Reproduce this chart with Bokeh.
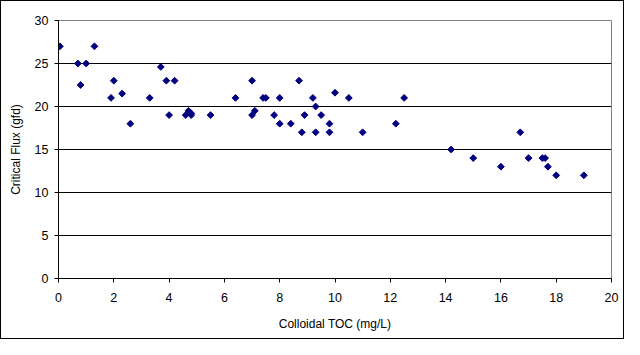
import math
from bokeh.plotting import figure
from bokeh.models import Range1d, FixedTicker, ColumnDataSource
from bokeh.embed import file_html
from bokeh.resources import INLINE

toc = [0.05, 0.7, 0.8, 1.0, 1.3, 1.9, 2.0, 2.3, 2.6, 3.3, 3.7, 3.9, 4.0, 4.2,
       4.6, 4.7, 4.8, 4.8, 5.5, 6.4, 7.0, 7.0, 7.1, 7.4, 7.5, 7.8, 8.0, 8.0,
       8.4, 8.7, 8.8, 8.9, 9.2, 9.3, 9.3, 9.5, 9.8, 9.8, 10.0, 10.5, 11.0,
       12.2, 12.5, 14.2, 15.0, 16.0, 16.7, 17.0, 17.5, 17.6, 17.7, 18.0, 19.0]
flux = [27, 25, 22.5, 25, 27, 21, 23, 21.5, 18, 21, 24.6, 23, 19, 23,
        19, 19.5, 19.2, 19, 19, 21, 23, 19, 19.5, 21, 21, 19, 21, 18,
        18, 23, 17, 19, 21, 20, 17, 19, 18, 17, 21.6, 21, 17,
        18, 21, 15, 14, 13, 17, 14, 14, 14, 13, 12, 12]
x_ticks = [0, 2, 4, 6, 8, 10, 12, 14, 16, 18, 20]
y_ticks = [0, 5, 10, 15, 20, 25, 30]
grid_levels = [5, 10, 15, 20, 25]

src = ColumnDataSource(dict(x=toc, y=flux))

p = figure(width=624, height=339, output_backend="svg", toolbar_location=None,
           x_range=Range1d(0, 20), y_range=Range1d(0, 30),
           min_border_left=57, min_border_right=14, min_border_top=19,
           min_border_bottom=62)
p.styles = {"border": "1px solid black"}
p.background_fill_color = "white"
p.border_fill_color = "white"
p.outline_line_color = "#808080"
p.outline_line_width = 1

p.xgrid.visible = False
p.ygrid.ticker = FixedTicker(ticks=grid_levels)
p.ygrid.grid_line_color = "black"
p.ygrid.grid_line_width = 1

FONT = "Liberation Sans"
for ax in (p.xaxis[0], p.yaxis[0]):
    ax.axis_line_color = "black"
    ax.major_tick_line_color = "black"
    ax.major_tick_out = 4
    ax.major_tick_in = 0
    ax.minor_tick_line_color = None
    ax.major_label_text_font = FONT
    ax.major_label_text_font_size = "12.5px"
    ax.major_label_text_color = "black"
    ax.axis_label_text_font = FONT
    ax.axis_label_text_font_size = "12px"
    ax.axis_label_text_font_style = "normal"
    ax.axis_label_text_color = "black"

p.xaxis.ticker = FixedTicker(ticks=x_ticks)
p.yaxis.ticker = FixedTicker(ticks=y_ticks)
p.xaxis.axis_label = "Colloidal TOC (mg/L)"
p.yaxis.axis_label = "Critical Flux (gfd)"
p.xaxis.major_label_standoff = 10
p.yaxis.major_label_standoff = 6
p.xaxis.axis_label_standoff = 12
p.yaxis.axis_label_standoff = 9

p.scatter("x", "y", source=src, marker="square", size=4.8, angle=math.pi / 4,
          fill_color="#000080", line_color="#000080")

open("out.html", "w").write(file_html(p, INLINE))
